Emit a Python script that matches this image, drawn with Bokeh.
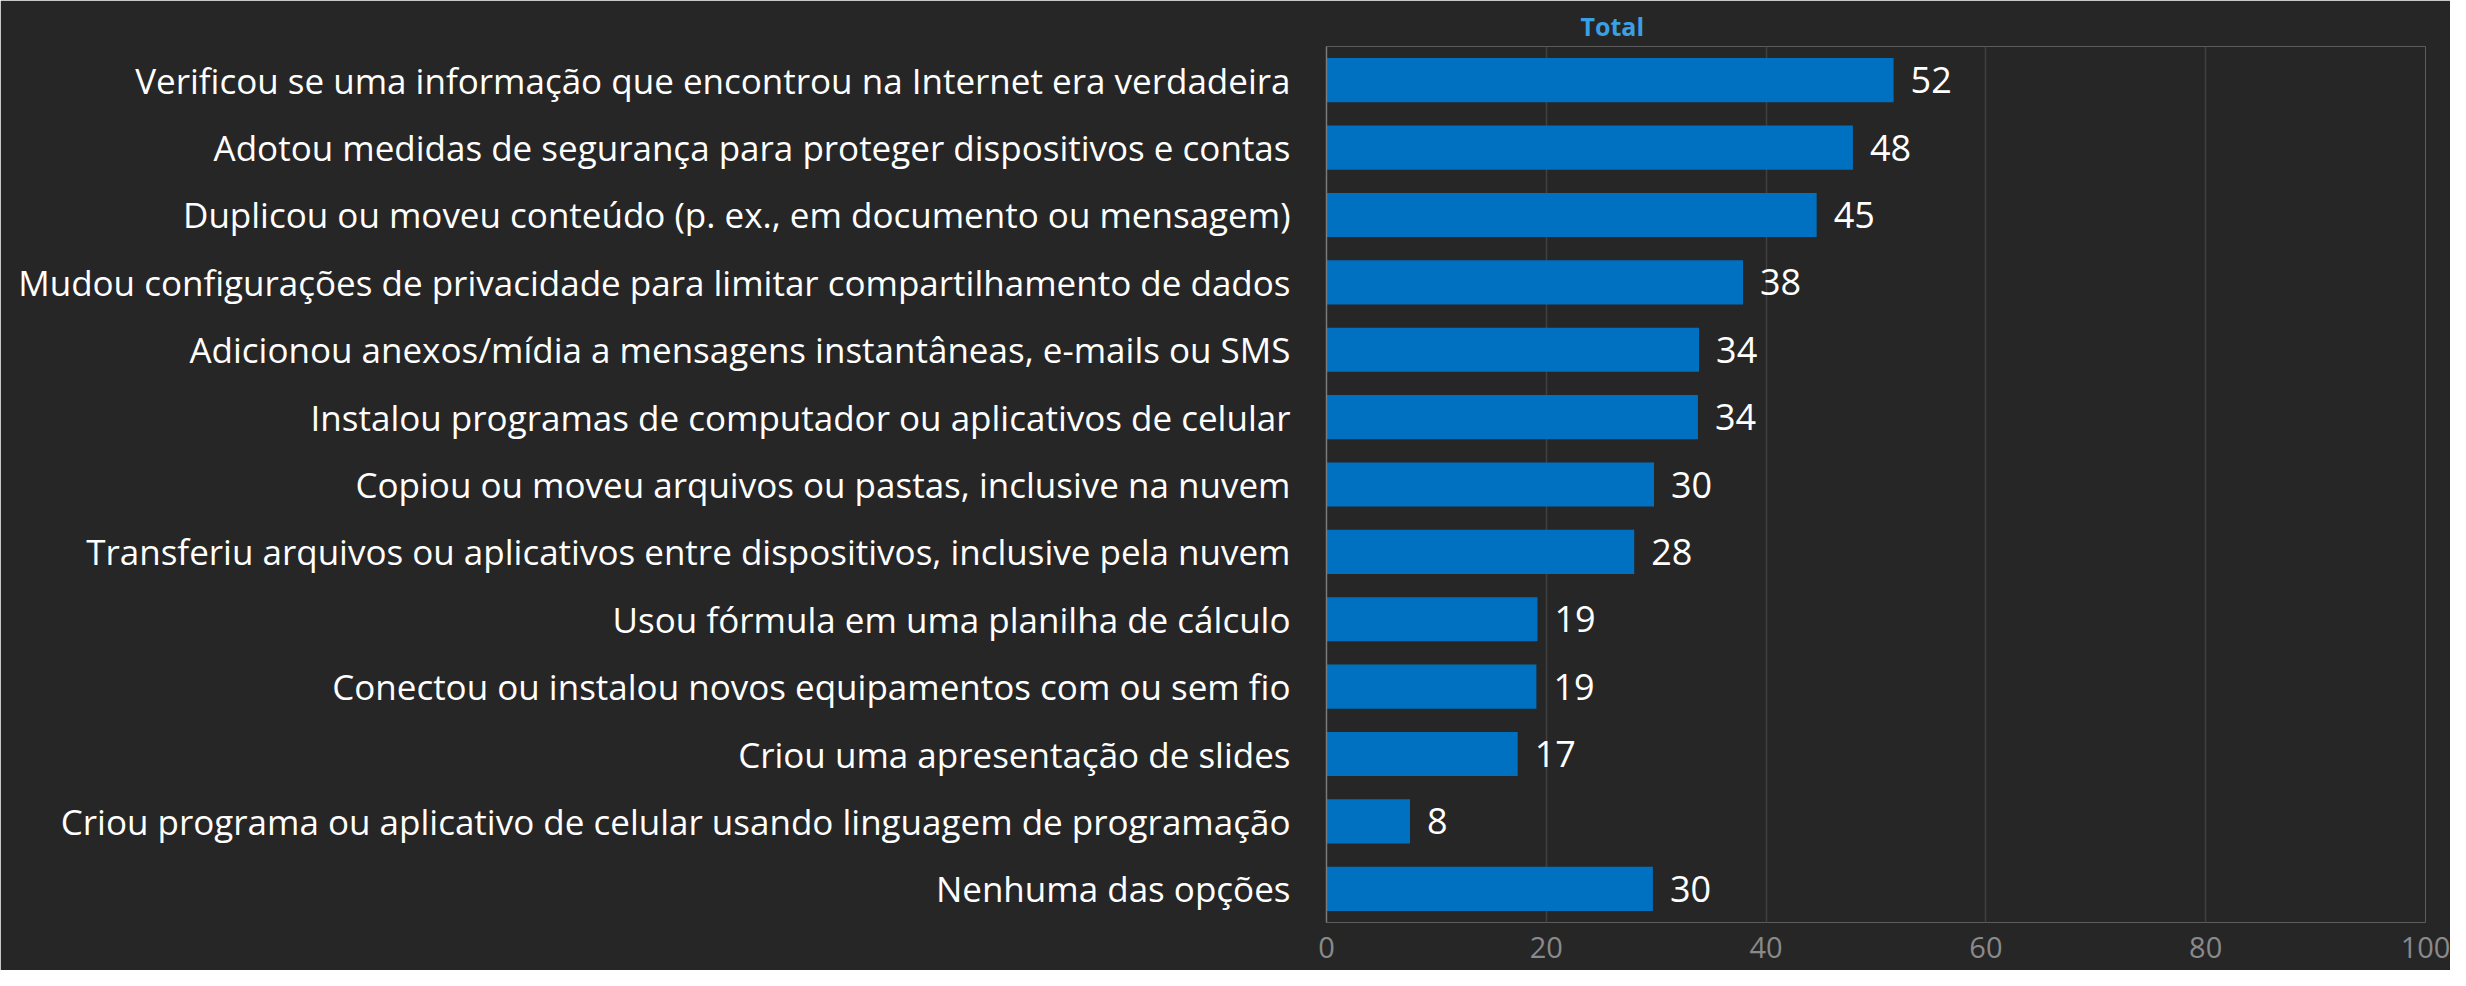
from bokeh.plotting import figure
from bokeh.models import FactorRange, ColumnDataSource, FixedTicker
from bokeh.core.properties import value
from bokeh.embed import file_html
from bokeh.resources import INLINE

categories = [
    "Verificou se uma informação que encontrou na Internet era verdadeira",
    "Adotou medidas de segurança para proteger dispositivos e contas",
    "Duplicou ou moveu conteúdo (p. ex., em documento ou mensagem)",
    "Mudou configurações de privacidade para limitar compartilhamento de dados",
    "Adicionou anexos/mídia a mensagens instantâneas, e-mails ou SMS",
    "Instalou programas de computador ou aplicativos de celular",
    "Copiou ou moveu arquivos ou pastas, inclusive na nuvem",
    "Transferiu arquivos ou aplicativos entre dispositivos, inclusive pela nuvem",
    "Usou fórmula em uma planilha de cálculo",
    "Conectou ou instalou novos equipamentos com ou sem fio",
    "Criou uma apresentação de slides",
    "Criou programa ou aplicativo de celular usando linguagem de programação",
    "Nenhuma das opções",
]
values = [51.6, 47.9, 44.6, 37.9, 33.9, 33.8, 29.8, 28.0, 19.2, 19.1, 17.4, 7.6, 29.7]
labels = [str(int(round(v))) for v in values]
x_ticks = [0, 20, 40, 60, 80, 100]

FONT = "Open Sans"
BG = "#262626"

src = ColumnDataSource(dict(cat=categories, val=values, lab=labels))

p = figure(
    width=2450, height=970,
    y_range=FactorRange(factors=list(reversed(categories))),
    x_range=(0, 100),
    output_backend="svg", toolbar_location=None,
    background_fill_color=BG, border_fill_color=BG,
    min_border_left=1326, min_border_right=25,
    min_border_top=46, min_border_bottom=48,
    outline_line_color=None,
)

p.hbar(y="cat", right="val", left=0, height=0.655, source=src,
       fill_color="#0070C0", line_color=None)

p.text(x="val", y="cat", text="lab", source=src, x_offset=17,
       text_baseline="middle", text_align="left",
       text_color="#ffffff", text_font=value(FONT),
       text_font_size=value("36px"))

p.title.text = "Total"
p.title.align = "left"
p.title.offset = 254
p.title.text_color = "#3A9FE3"
p.title.text_font = FONT
p.title.text_font_size = "25px"
p.title.text_font_style = "bold"
p.title.standoff = 8

# y axis (category labels)
yax = p.yaxis[0]
yax.major_label_text_font = FONT
yax.major_label_text_font_size = "35px"
yax.major_label_text_color = "#ffffff"
yax.major_tick_line_color = None
yax.minor_tick_line_color = None
yax.axis_line_color = "#7a7a7a"
yax.axis_line_width = 1.5
yax.major_label_standoff = 30

# x axis
xax = p.xaxis[0]
xax.ticker = FixedTicker(ticks=x_ticks)
xax.axis_line_color = None
xax.major_tick_line_color = None
xax.minor_tick_line_color = None
xax.major_label_text_font = FONT
xax.major_label_text_font_size = "29px"
xax.major_label_text_color = "#8a8a8a"
xax.major_label_standoff = 8

p.xgrid.grid_line_color = "#404040"
p.xgrid.grid_line_width = 1.5
p.ygrid.grid_line_color = None

open("out.html", "w").write(file_html(p, INLINE))
